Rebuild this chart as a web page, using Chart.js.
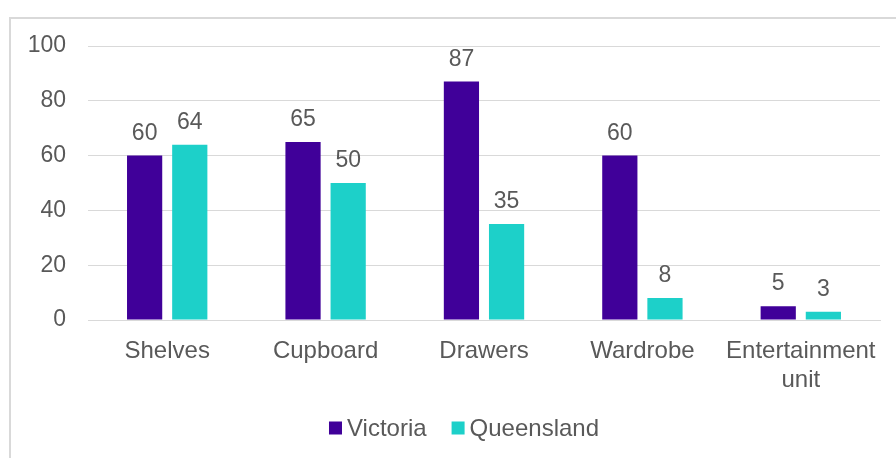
<!DOCTYPE html>
<html>
<head>
<meta charset="utf-8">
<script src="https://cdn.jsdelivr.net/npm/chart.js@4/dist/chart.umd.min.js"></script>
<style>
  html, body { margin: 0; padding: 0; background: #ffffff; }
  #wrap { position: relative; width: 896px; height: 458px; overflow: hidden; }
  #frame { position: absolute; left: 9px; top: 17px; width: 900px; height: 460px;
           border-left: 2px solid #d9d9d9; border-top: 2px solid #d9d9d9; }
  canvas { position: absolute; left: 0; top: 0; }
</style>
</head>
<body>
<div id="wrap">
  <div id="frame"></div>
  <canvas id="c" width="896" height="458"></canvas>
</div>
<script>
const categories = ['Shelves', 'Cupboard', 'Drawers', 'Wardrobe', ['Entertainment', 'unit']];
const victoria = [60, 65, 87, 60, 5];
const queensland = [64, 50, 35, 8, 3];
const yTicks = [0, 20, 40, 60, 80, 100];

const FONT = "'Liberation Sans', Arial, sans-serif";
const TEXT = '#595959';
const FS = 23;
const FS_X = 24;

const valueLabels = {
  id: 'valueLabels',
  afterDatasetsDraw(chart) {
    const ctx = chart.ctx;
    ctx.save();
    ctx.font = FS + 'px ' + FONT;
    ctx.fillStyle = TEXT;
    ctx.textAlign = 'center';
    ctx.textBaseline = 'alphabetic';
    chart.data.datasets.forEach((ds, i) => {
      const meta = chart.getDatasetMeta(i);
      meta.data.forEach((bar, j) => {
        ctx.fillText(String(ds.data[j]), bar.x, bar.y - 16);
      });
    });
    ctx.restore();
  }
};

// Custom legend: centred under the chart area, square markers close to text
const customLegend = {
  id: 'customLegend',
  afterDraw(chart) {
    const ctx = chart.ctx;
    const box = 13, gapText = 5, gapItem = 25;
    ctx.save();
    ctx.font = FS_X + 'px ' + FONT;
    const items = chart.data.datasets.map(ds => ({
      label: ds.label, color: ds.backgroundColor, w: ctx.measureText(ds.label).width
    }));
    const total = items.reduce((s, it) => s + box + gapText + it.w, 0) + gapItem * (items.length - 1);
    const area = chart.chartArea;
    const cx = (area.left + area.right) / 2 - 20;
    const cy = chart.height - 30;
    let x = cx - total / 2;
    ctx.textBaseline = 'middle';
    ctx.textAlign = 'left';
    items.forEach(it => {
      ctx.fillStyle = it.color;
      ctx.fillRect(x, cy - box / 2, box, box);
      x += box + gapText;
      ctx.fillStyle = TEXT;
      ctx.fillText(it.label, x, cy + 1);
      x += it.w + gapItem;
    });
    ctx.restore();
  }
};

new Chart(document.getElementById('c'), {
  type: 'bar',
  data: {
    labels: categories,
    datasets: [
      { label: 'Victoria', data: victoria, backgroundColor: '#400099',
        categoryPercentage: 0.57, barPercentage: 0.78 },
      { label: 'Queensland', data: queensland, backgroundColor: '#1DD0C9',
        categoryPercentage: 0.57, barPercentage: 0.78 }
    ]
  },
  options: {
    responsive: false,
    animation: false,
    layout: { padding: { left: 0, right: 16, top: 46, bottom: 52 } },
    plugins: {
      legend: { display: false },
      tooltip: { enabled: false }
    },
    scales: {
      x: {
        grid: { display: false, drawTicks: false },
        border: { display: true, color: '#d9d9d9', width: 1 },
        ticks: { font: { family: FONT, size: FS_X, lineHeight: 1.2 }, color: TEXT, padding: 17, maxRotation: 0, autoSkip: false },
        afterFit(scale) { scale.height = 86; }
      },
      y: {
        min: 0, max: 100,
        afterBuildTicks(scale) { scale.ticks = yTicks.map(v => ({ value: v })); },
        grid: { color: '#d9d9d9', lineWidth: 1, drawTicks: false },
        border: { display: false },
        ticks: { font: { family: FONT, size: FS }, color: TEXT, padding: 22 },
        afterFit(scale) { scale.width = 88; }
      }
    }
  },
  plugins: [valueLabels, customLegend]
});
</script>
</body>
</html>
